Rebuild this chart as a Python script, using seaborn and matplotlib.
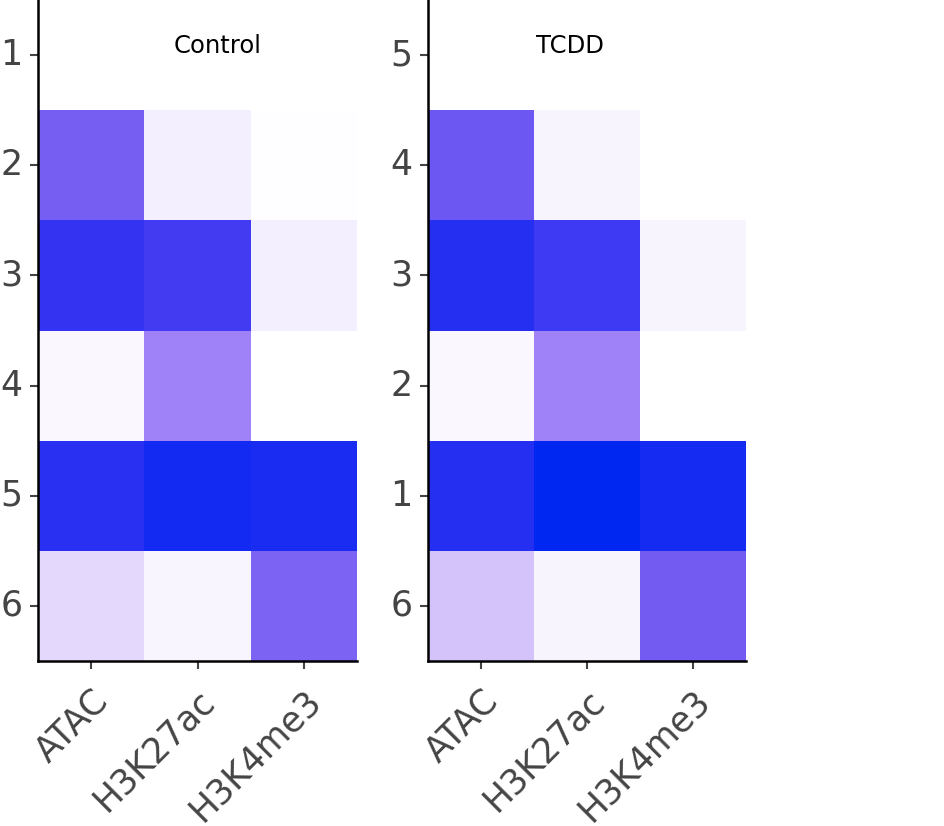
import numpy as np
import pandas as pd
import matplotlib
matplotlib.use('Agg')
import matplotlib.pyplot as plt
import seaborn as sns
from matplotlib.colors import LinearSegmentedColormap

# marks and row orders
marks = ['ATAC', 'H3K27ac', 'H3K4me3']
control_rows = ['1', '2', '3', '4', '5', '6']
tcdd_rows = ['5', '4', '3', '2', '1', '6']

# scaled signal per row (ATAC, H3K27ac, H3K4me3); first row empty
control_atac = [np.nan, 0.60, 0.80, 0.03, 0.84, 0.16]
control_h3k27ac = [np.nan, 0.07, 0.76, 0.45, 0.93, 0.04]
control_h3k4me3 = [np.nan, 0.01, 0.07, 0.00, 0.90, 0.58]

tcdd_atac = [np.nan, 0.63, 0.86, 0.03, 0.86, 0.25]
tcdd_h3k27ac = [np.nan, 0.05, 0.77, 0.45, 1.00, 0.05]
tcdd_h3k4me3 = [np.nan, 0.00, 0.05, 0.00, 0.92, 0.61]

control = pd.DataFrame({'ATAC': control_atac, 'H3K27ac': control_h3k27ac,
                        'H3K4me3': control_h3k4me3}, index=control_rows)
tcdd = pd.DataFrame({'ATAC': tcdd_atac, 'H3K27ac': tcdd_h3k27ac,
                     'H3K4me3': tcdd_h3k4me3}, index=tcdd_rows)

cmap = LinearSegmentedColormap.from_list('wpb', [
    (0.0, '#ffffff'), (0.25, '#d4c2fa'), (0.45, '#9f82f7'),
    (0.6, '#775ef2'), (0.8, '#3533f2'), (1.0, '#0026f2')])

plt.rcParams['font.family'] = ['DejaVu Sans']

fig = plt.figure(figsize=(9.44, 8.26), dpi=100)
W, H = 944, 826
ax1 = fig.add_axes([38 / W, 1 - 661 / H, 319 / W, 661 / H])
ax2 = fig.add_axes([428 / W, 1 - 661 / H, 318 / W, 661 / H])

for ax, df, title, tx in [(ax1, control, 'Control', 218),
                          (ax2, tcdd, 'TCDD', 570)]:
    sns.heatmap(df, ax=ax, cmap=cmap, vmin=0, vmax=1, cbar=False,
                linewidths=0)
    for side in ['left', 'bottom']:
        ax.spines[side].set_visible(True)
        ax.spines[side].set_color('black')
        ax.spines[side].set_linewidth(1.8)
    ax.tick_params(axis='both', colors='#444444', labelsize=25,
                   length=6, width=1.5, pad=5)
    ax.tick_params(axis='x', pad=10)
    ax.set_yticklabels(ax.get_yticklabels(), rotation=0)
    ax.set_xticklabels(ax.get_xticklabels(), rotation=45, ha='right',
                       va='top', rotation_mode='anchor')
    ax.set_xlabel('')
    ax.set_ylabel('')
    fig.text(tx / W, 1 - 46 / H, title, ha='center', va='center',
             fontsize=17.5, color='black')

fig.savefig('out.png', dpi=100)
